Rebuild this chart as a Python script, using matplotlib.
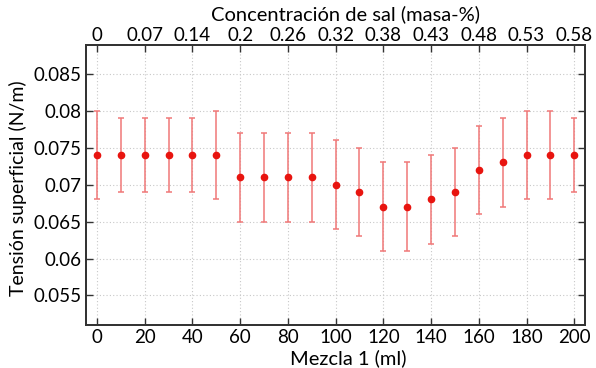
import numpy as np
import matplotlib
matplotlib.use("Agg")
import matplotlib.pyplot as plt

plt.rcParams['font.family'] = ['Lato', 'DejaVu Sans']

# datos
mezcla = [0, 10, 20, 30, 40, 50, 60, 70, 80, 90, 100,
          110, 120, 130, 140, 150, 160, 170, 180, 190, 200]
tension = [0.074, 0.074, 0.074, 0.074, 0.074, 0.074, 0.071, 0.071, 0.071, 0.071, 0.070,
           0.069, 0.067, 0.067, 0.068, 0.069, 0.072, 0.073, 0.074, 0.074, 0.074]
err_low = [0.068, 0.069, 0.069, 0.069, 0.069, 0.068, 0.065, 0.065, 0.065, 0.065, 0.064,
           0.063, 0.061, 0.061, 0.062, 0.063, 0.066, 0.067, 0.068, 0.068, 0.069]
err_high = [0.080, 0.079, 0.079, 0.079, 0.079, 0.080, 0.077, 0.077, 0.077, 0.077, 0.076,
            0.075, 0.073, 0.073, 0.074, 0.075, 0.078, 0.079, 0.080, 0.080, 0.079]
top_ticks = [0, 20, 40, 60, 80, 100, 120, 140, 160, 180, 200]
top_labels = ['0', '0.07', '0.14', '0.2', '0.26', '0.32', '0.38', '0.43', '0.48', '0.53', '0.58']
y_ticks = [0.055, 0.06, 0.065, 0.07, 0.075, 0.08, 0.085]

x = np.array(mezcla)
y = np.array(tension)
yerr = [y - np.array(err_low), np.array(err_high) - y]

fig = plt.figure(figsize=(5.96, 3.68), dpi=100)
ax = fig.add_axes([0.1443, 0.1168, 0.8372, 0.7609])

ax.errorbar(x, y, yerr=yerr, fmt='none', ecolor='#f07878', elinewidth=1.1,
            capsize=2.5, capthick=1.1, zorder=3)
ax.plot(x, y, 'o', color='#e8140f', markersize=4.5, zorder=4)

ax.set_xlim(-4.6, 204.5)
ax.set_ylim(0.051, 0.0889)
ax.set_xticks(top_ticks)
ax.set_yticks(y_ticks)
ax.set_yticklabels(['0.055', '0.06', '0.065', '0.07', '0.075', '0.08', '0.085'])
ax.grid(True, linestyle=(0, (1, 2)), color='#c8c8c8', linewidth=0.8)
ax.tick_params(direction='in', length=5, width=1, colors='#333333',
               labelcolor='black', labelsize=13.5, right=True, pad=3)
for s in ax.spines.values():
    s.set_color('#333333')
    s.set_linewidth(1.3)

ax.set_xlabel('Mezcla 1 (ml)', fontsize=14.5)
ax.xaxis.set_label_coords(0.525, -0.085)
ax.set_ylabel('Tensión superficial (N/m)', fontsize=14)
ax.yaxis.set_label_coords(-0.118, 0.49)

ax2 = ax.twiny()
ax2.set_xlim(ax.get_xlim())
ax2.set_xticks(top_ticks)
ax2.set_xticklabels(top_labels)
ax2.tick_params(direction='in', length=5, width=1, colors='#333333',
                labelcolor='black', labelsize=13.5, pad=1)
ax2.set_xlabel('Concentración de sal (masa-%)', fontsize=14.5)
ax2.xaxis.set_label_coords(0.52, 1.09)
for s in ax2.spines.values():
    s.set_color('#333333')
    s.set_linewidth(1.3)

plt.savefig('out.png', dpi=100)
